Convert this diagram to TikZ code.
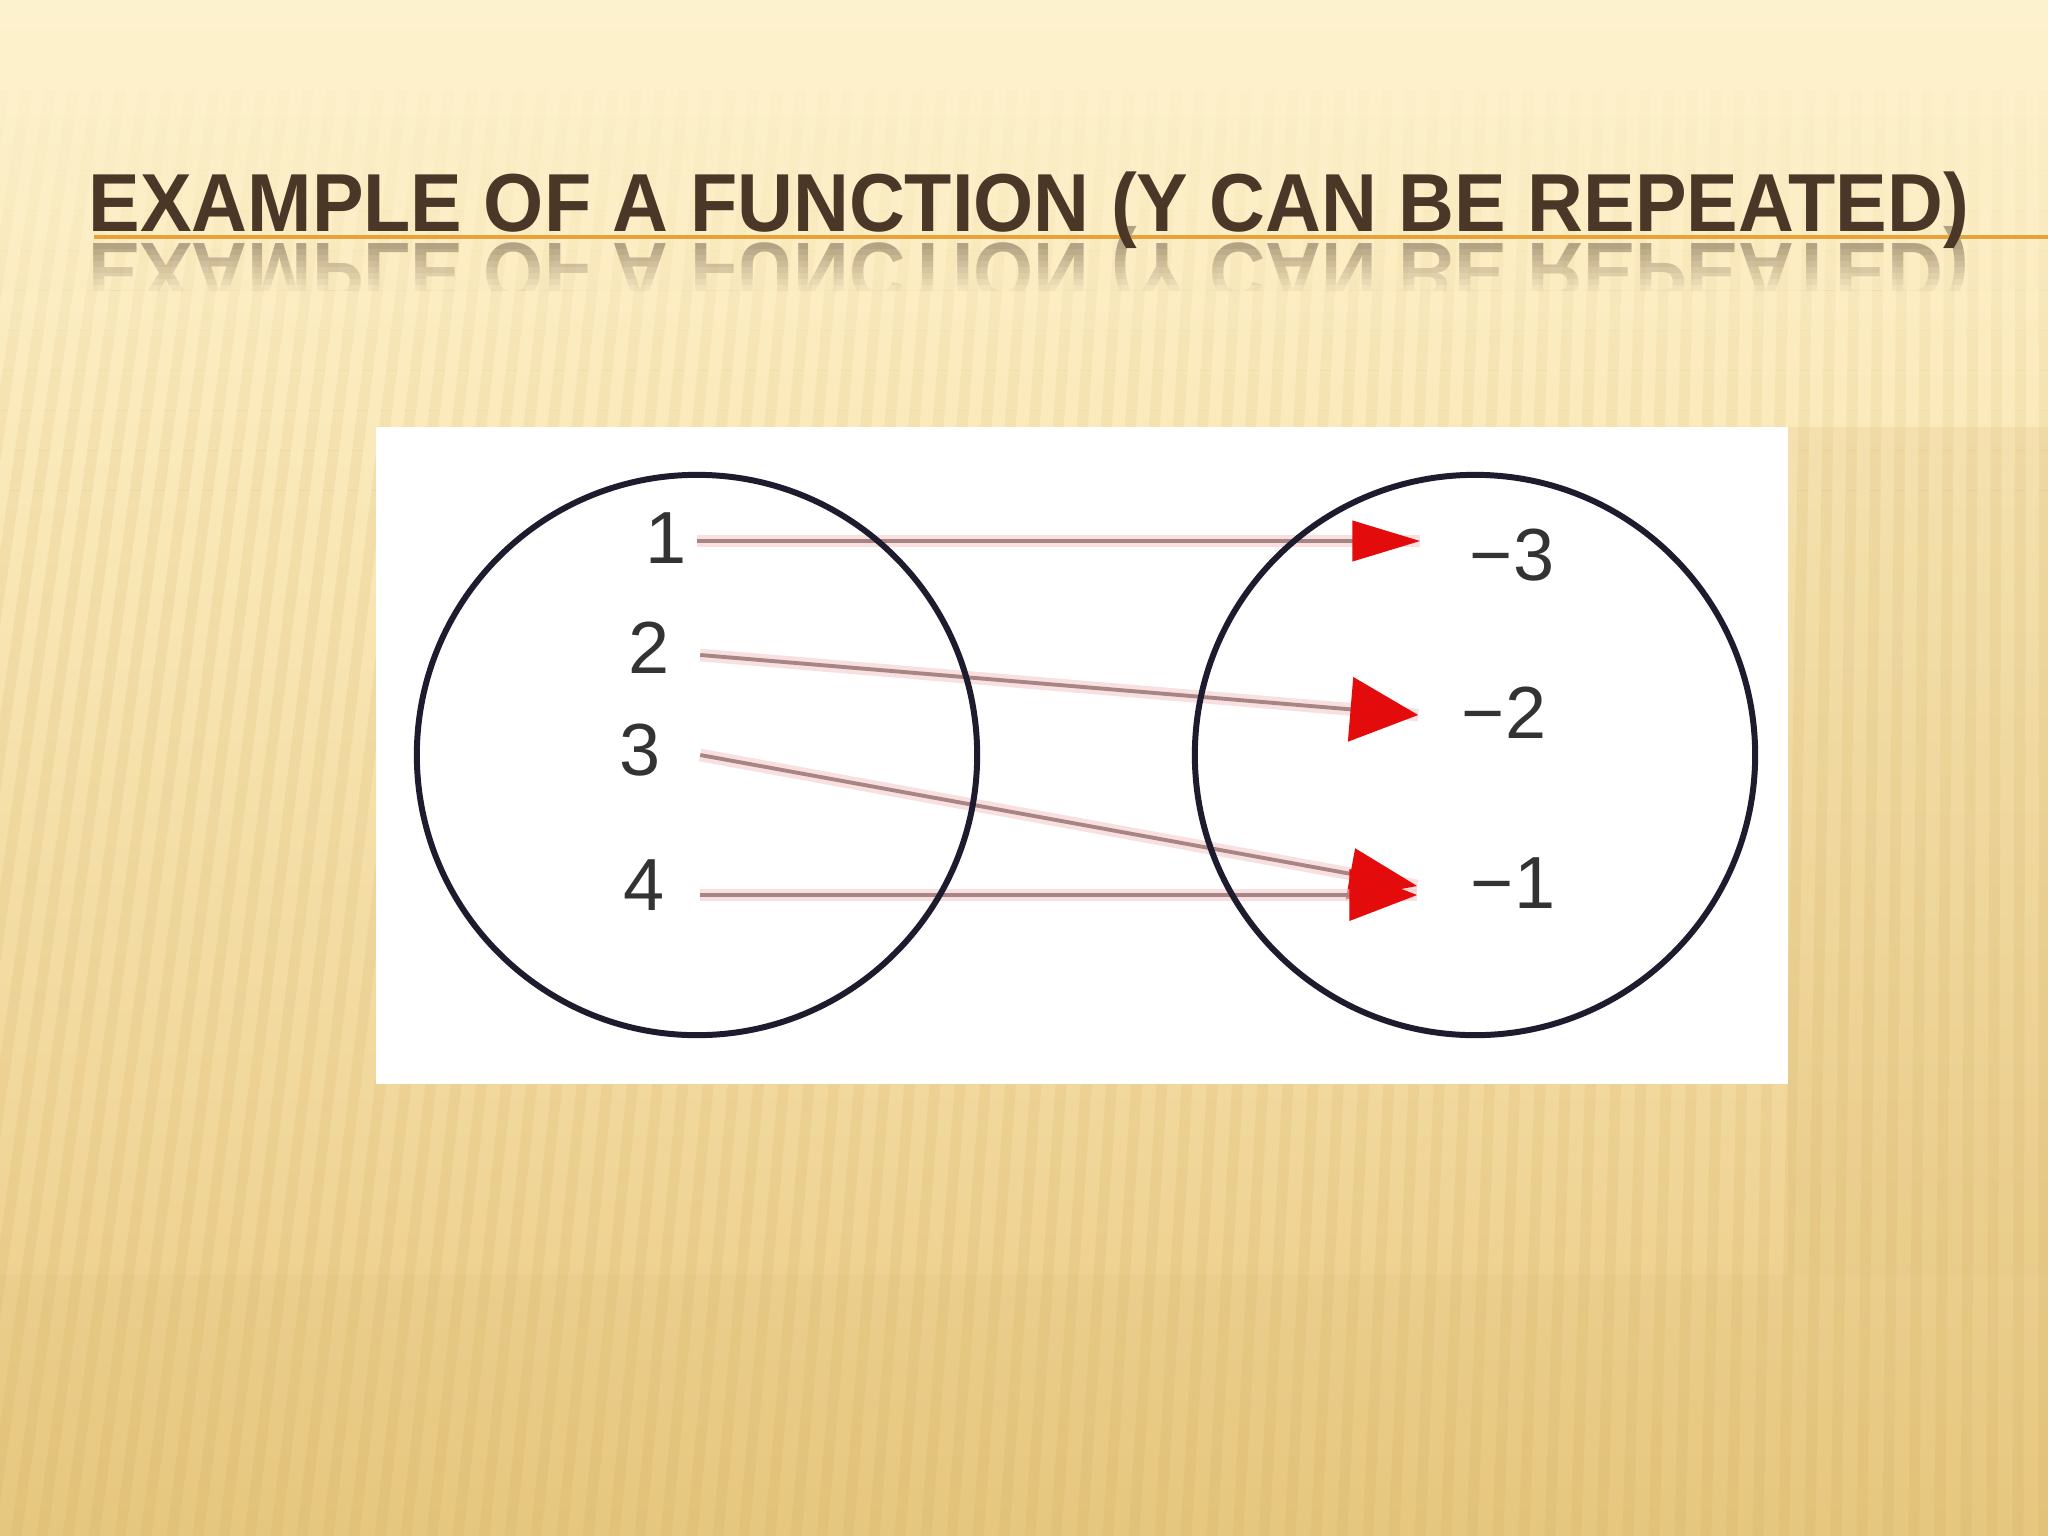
\documentclass[tikz,border=0pt]{standalone}
\usepackage{fontspec}
\setmainfont{Liberation Sans}
\newfontfamily\titlefont{Liberation Sans}
\usetikzlibrary{arrows.meta,calc,shapes.geometric}
\definecolor{bgtop}{HTML}{FDF2CE}
\definecolor{bgca}{HTML}{FCEEC5}
\definecolor{bgcb}{HTML}{F8E5B2}
\definecolor{bgcc}{HTML}{F0D699}
\definecolor{bgbot}{HTML}{E9CA83}
\definecolor{stripec}{HTML}{C49A45}
\definecolor{titlec}{HTML}{4A3728}
\definecolor{rulec}{HTML}{E9A23B}
\definecolor{setc}{HTML}{1C1C2E}
\definecolor{numc}{HTML}{333333}
\definecolor{linec}{HTML}{A88484}
\definecolor{haloc}{HTML}{F4CCCC}
\definecolor{arrred}{HTML}{E30B0B}
\definecolor{reflbg}{HTML}{FCEDC3}
\pgfdeclareverticalshading{bgshade}{100bp}{color(0bp)=(bgbot); color(25bp)=(bgbot); color(37.5bp)=(bgcc); color(55bp)=(bgcb); color(67.5bp)=(bgca); color(75bp)=(bgtop); color(100bp)=(bgtop)}
\newcommand{\slidetitle}{\resizebox{18.79cm}{\height}{\titlefont\bfseries\fontsize{23.4}{28}\selectfont EXAMPLE OF A FUNCTION (Y CAN BE REPEATED)}}
\begin{document}
\begin{tikzpicture}[x=0.01cm, y=-0.01cm,
  stripe/.style={draw=stripec, line width=3.1pt},
  setring/.style={draw=setc, line width=1.7pt, ellipse, minimum width=5.6cm, minimum height=5.6cm, inner sep=0pt},
  num/.style={inner sep=0pt, text=numc, font=\fontsize{21}{25}\selectfont},
  conn/.style={draw=linec, line width=1.1pt, preaction={draw=haloc, line width=3.6pt, opacity=0.6, -}},
  tipsmall/.style={-{Triangle[length=19.3pt, width=11.4pt, color=arrred]}},
  tipbig/.style={-{Triangle[length=19.3pt, width=18.2pt, color=arrred]}},
  tipmid/.style={-{Triangle[length=19.3pt, width=14.5pt, color=arrred]}},
  titlestyle/.style={anchor=base west, inner sep=0pt, text=titlec}
]
\useasboundingbox (0,0) rectangle (2048,1536);
% background
\shade[shading=bgshade] (0,0) rectangle (2048,1536);
% title reflection
\node[titlestyle, opacity=0.4] (refl) at (88,243) {\scalebox{1}[-1]{\slidetitle}};
\foreach \i in {0,...,8} {
  \fill[reflbg, opacity={\i/8}] (0,{243+\i*6}) rectangle (2048,{249+\i*6});
}
\fill[reflbg] (0,297) rectangle (2048,312);
% stripes, fading in from the top
\foreach \k in {0,...,9} {
  \begin{scope}
    \clip (0,{90+\k*40}) rectangle (2048,{130+\k*40});
    \begin{scope}[opacity={0.015+\k*0.01}]
    \foreach \x in {-400,-374,...,2100} { \draw[stripe] (\x,1536) -- ({\x+200*(1-\x/2048)},90); }
    \end{scope}
  \end{scope}
}
\begin{scope}
  \clip (0,490) rectangle (2048,1536);
  \begin{scope}[opacity=0.11]
  \foreach \x in {-400,-374,...,2100} { \draw[stripe] (\x,1536) -- ({\x+200*(1-\x/2048)},90); }
  \end{scope}
\end{scope}
\fill[stripec, opacity=0.10] (1788,427) rectangle (2048,1275);
\fill[stripec, opacity=0.06] (0,1275) rectangle (2048,1536);
% picture panel
\fill[white] (376,427) rectangle (1788,1084);
% labels
\node[num] (l1) at (666,538) {1};
\node[num] (l2) at (649,648) {2};
\node[num] (l3) at (640,750) {3};
\node[num] (l4) at (644,885) {4};
\node[num] (r1) at (1512,555) {−3};
\node[num] (r2) at (1504,713) {−2};
\node[num] (r3) at (1513,883) {−1};
% connectors
\draw[conn, tipsmall] ($(l1.east)+(10,3)$) -- ($(r1.west)+(-49,-14)$);
\draw[conn, tipbig] ($(l2.east)+(30,7)$) -- ($(r2.west)+(-43,2)$);
\draw[conn, tipmid] ($(l3.east)+(39,5)$) -- ($(r3.west)+(-53,3)$);
\draw[conn, tipmid] ($(l4.east)+(35,10)$) -- ($(r3.west)+(-53,12)$);
% sets
\node[setring] (A) at (697,755) {};
\node[setring] (B) at (1475,755) {};
% title
\draw[rulec, line width=1.1pt] (94,237) -- (2048,237);
\node[titlestyle] (title) at (88,231) {\slidetitle};
\end{tikzpicture}
\end{document}
